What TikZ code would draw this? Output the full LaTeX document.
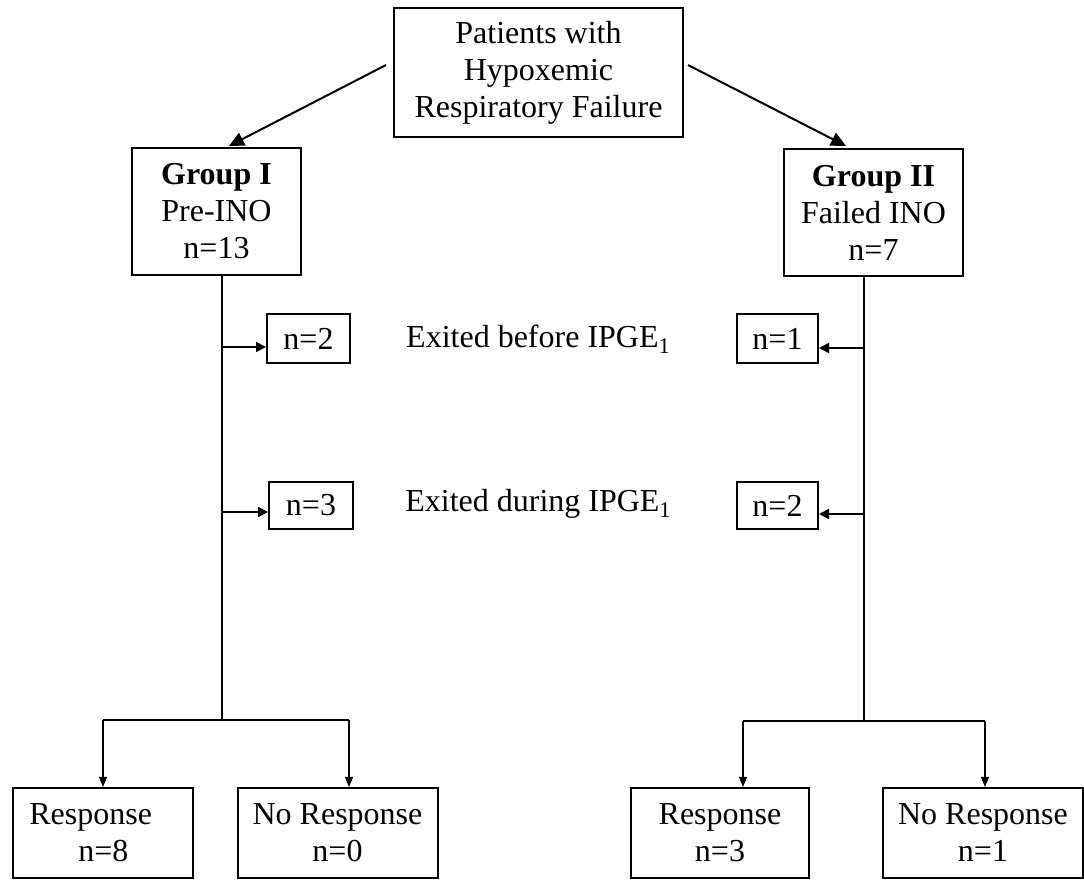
\documentclass[tikz,border=0pt]{standalone}
\usepackage{fontspec}
\setmainfont{Liberation Serif}
\usetikzlibrary{arrows.meta}
\begin{document}
\begin{tikzpicture}[x=0.5pt,y=-0.5pt,
  box/.style={draw, line width=1pt, rectangle, inner sep=0pt, align=center, font=\fontsize{16pt}{18.5pt}\selectfont},
  txt/.style={inner sep=0pt, font=\fontsize{16pt}{18.5pt}\selectfont},
  bigarrow/.style={line width=1pt, -{Triangle[length=7.5pt,width=7pt]}},
  sidearrow/.style={line width=0.9pt, -{Triangle[length=5pt,width=5pt]}},
  downarrow/.style={line width=0.6pt, -{Triangle[length=5pt,width=4pt]}},
  thinline/.style={line width=0.6pt},
]
\useasboundingbox (0,0) rectangle (1084,882);

% main boxes
\node[box, minimum width=144.5pt, minimum height=64.5pt] (top) at (538.5,72.5) {Patients with\\Hypoxemic\\Respiratory Failure};
\node[box, minimum width=84.5pt, minimum height=63.5pt] (g1) at (216.5,211.5) {\textbf{Group I}\\Pre-INO\\n=13};
\node[box, minimum width=89.5pt, minimum height=63.5pt] (g2) at (873.5,212.5) {\textbf{Group II}\\Failed INO\\n=7};

% arrows from top box
\coordinate (a1s) at (386,65);
\coordinate (a1e) at (229,146);
\coordinate (a2s) at (688,65);
\coordinate (a2e) at (846,146);
\draw[bigarrow] (a1s) -- (a1e);
\draw[bigarrow] (a2s) -- (a2e);

% exit boxes
\node[box, minimum width=41.5pt, minimum height=24.5pt] (n2l) at (308.5,338.5) {n=2};
\node[box, minimum width=42pt, minimum height=23.5pt] (n3l) at (311,505.5) {n=3};
\node[box, minimum width=40.5pt, minimum height=24.5pt] (n1r) at (777.5,338.5) {n=1};
\node[box, minimum width=40.5pt, minimum height=23.5pt] (n2r) at (777.5,505.5) {n=2};

\node[txt, anchor=base] (ex1) at (538.5,348) {Exited before IPGE\textsubscript{1}};
\node[txt, anchor=base] (ex2) at (538.5,512) {Exited during IPGE\textsubscript{1}};

% bottom boxes
\node[box, minimum width=90pt, minimum height=45pt] (r1) at (103,833) {};
\node[txt, anchor=base west] (r1a) at (29,825) {Response};
\node[txt, anchor=base west] (r1b) at (78,862) {n=8};
\node[box, minimum width=100pt, minimum height=45pt] (nr1) at (337.5,833) {No Response\\n=0};
\node[box, minimum width=89.2pt, minimum height=45pt] (r2) at (720,833) {Response\\n=3};
\node[box, minimum width=100pt, minimum height=45pt] (nr2) at (983,833) {No Response\\n=1};

% left trunk
\coordinate (b1) at (222,720);
\coordinate (b1l) at (103,720);
\coordinate (b1r) at (349,720);
\draw[thinline] (g1.south -| b1) -- (b1);
\draw[thinline] (b1l) -- (b1r);
\draw[downarrow] (b1l) -- (b1l |- r1.north);
\draw[downarrow] (b1r) -- (b1r |- nr1.north);

% right trunk
\coordinate (b2) at (864,721);
\coordinate (b2l) at (743,721);
\coordinate (b2r) at (985,721);
\draw[thinline] (g2.south -| b2) -- (b2);
\draw[thinline] (b2l) -- (b2r);
\draw[downarrow] (b2l) -- (b2l |- r2.north);
\draw[downarrow] (b2r) -- (b2r |- nr2.north);

% side arrows
\coordinate (s1) at (222,347);
\coordinate (s2) at (222,512);
\coordinate (s3) at (864,348);
\coordinate (s4) at (864,514);
\draw[sidearrow] (s1) -- (s1 -| n2l.west);
\draw[sidearrow] (s2) -- (s2 -| n3l.west);
\draw[sidearrow] (s3) -- (s3 -| n1r.east);
\draw[sidearrow] (s4) -- (s4 -| n2r.east);
\end{tikzpicture}
\end{document}
